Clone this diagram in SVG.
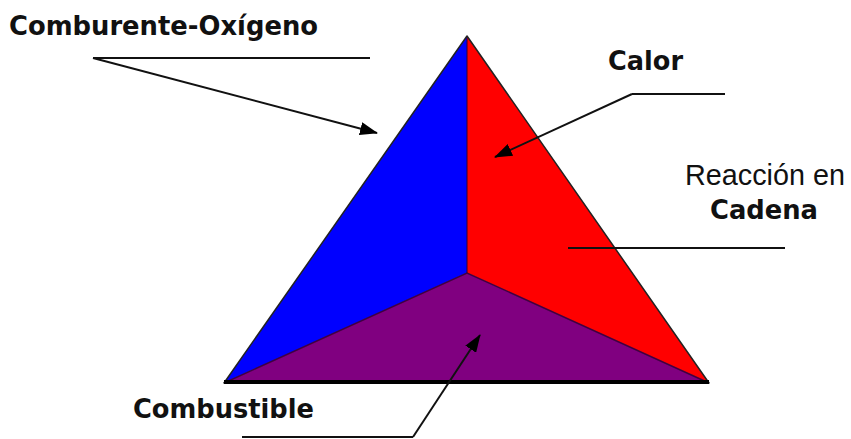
<svg xmlns="http://www.w3.org/2000/svg" width="851" height="439" viewBox="0 0 851 439">
<style>
.b{font-family:"DejaVu Sans",sans-serif;font-weight:bold;font-size:27px;fill:#111}
.r{font-family:"Liberation Sans",Arial,sans-serif;font-size:29px;fill:#111}
.ln{stroke:#111;stroke-width:2;fill:none}
.edge{stroke:#222;stroke-width:1.5;stroke-linejoin:round}
</style>
<defs>
<marker id="ah" markerWidth="18" markerHeight="13" refX="17" refY="6.5" orient="auto" markerUnits="userSpaceOnUse">
<path d="M0,0 L18,6.5 L0,13 Z" fill="#000"/>
</marker>
</defs>
<rect width="851" height="439" fill="#fff"/>
<g id="tetrahedron">
<polygon id="face-oxygen" points="467,36 224,383 467,273" fill="#0000ff"/>
<polygon id="face-heat" points="467,36 467,273 709,383" fill="#ff0000"/>
<polygon id="face-fuel" points="224,383 467,273 709,383" fill="#800080"/>
<polyline points="224,383 467,273 709,383" fill="none" stroke="#400040" stroke-width="1.5"/>
<line x1="467" y1="36" x2="467" y2="273" stroke="#300030" stroke-width="1"/>
<polygon points="467,36 224,383 709,383" fill="none" class="edge"/>
<line x1="224" y1="382" x2="709" y2="382" stroke="#000" stroke-width="4"/>
</g>
<g id="label-comburente">
<text class="b" x="9" y="35" textLength="309" lengthAdjust="spacingAndGlyphs">Comburente-Oxígeno</text>
</g>
<g id="label-calor">
<text class="b" x="608" y="70" textLength="75" lengthAdjust="spacingAndGlyphs">Calor</text>
</g>
<g id="label-reaccion">
<text class="r" x="685" y="185" textLength="160" lengthAdjust="spacingAndGlyphs">Reacción en</text>
<text class="b" x="710" y="219" textLength="108" lengthAdjust="spacingAndGlyphs">Cadena</text>
</g>
<g id="label-combustible">
<text class="b" x="133" y="418" textLength="181" lengthAdjust="spacingAndGlyphs">Combustible</text>
</g>
<g id="connectors">
<line class="ln" x1="93" y1="58" x2="370" y2="58"/>
<line class="ln" x1="93" y1="58" x2="377" y2="133" marker-end="url(#ah)"/>
<line class="ln" x1="632" y1="94" x2="725" y2="94"/>
<line class="ln" x1="632" y1="94" x2="495" y2="157" marker-end="url(#ah)"/>
<line class="ln" x1="568" y1="248" x2="785" y2="248" stroke="#444"/>
<line class="ln" x1="242" y1="437" x2="413" y2="437" stroke="#555"/>
<line class="ln" x1="413" y1="437" x2="480" y2="335" marker-end="url(#ah)"/>
</g>
</svg>
